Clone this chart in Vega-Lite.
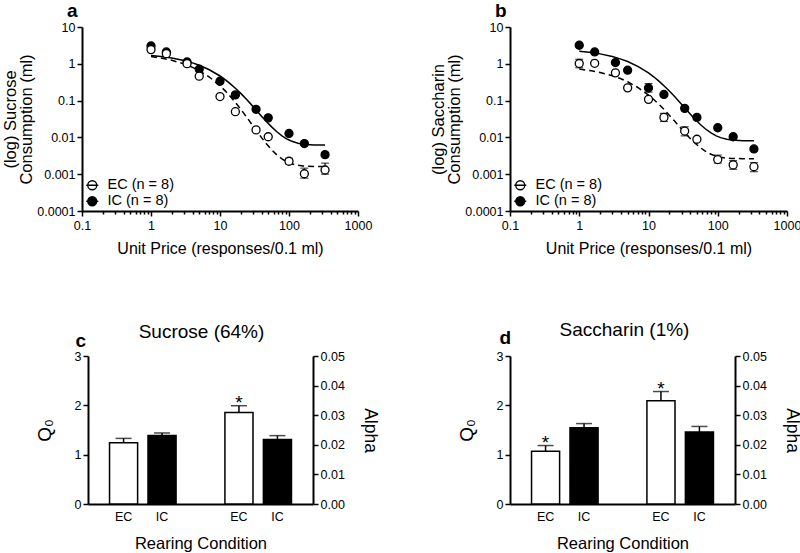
{
  "$schema": "https://vega.github.io/schema/vega-lite/v6.json",
  "padding": {"left": 2, "top": 2, "right": 0, "bottom": 0},
  "config": {
    "font": "Liberation Sans",
    "view": {"stroke": null},
    "axis": {"grid": false, "domainColor": "black", "domainWidth": 2, "tickColor": "black", "tickWidth": 1.5, "labelColor": "black", "titleColor": "black", "labelFontSize": 12.5, "titleFontWeight": "normal", "labelFont": "Liberation Sans", "titleFont": "Liberation Sans"},
    "title": {"color": "black", "font": "Liberation Sans"},
    "legend": {"labelFont": "Liberation Sans", "labelColor": "black"}
  },
  "datasets": {
    "ptsA": [
      {"price": 1, "q": 3.05, "group": "IC"}, {"price": 1.67, "q": 2.1, "group": "IC"}, {"price": 3.33, "q": 1.12, "group": "IC"}, {"price": 5, "q": 0.71, "group": "IC"}, {"price": 10, "q": 0.336, "group": "IC"}, {"price": 16.7, "q": 0.143, "group": "IC"}, {"price": 33.3, "q": 0.058, "group": "IC"}, {"price": 50, "q": 0.034, "group": "IC"}, {"price": 100, "q": 0.0128, "group": "IC"}, {"price": 167, "q": 0.0068, "group": "IC"}, {"price": 333, "q": 0.0034, "group": "IC"},
      {"price": 1, "q": 2.43, "group": "EC"}, {"price": 1.67, "q": 1.89, "group": "EC"}, {"price": 3.33, "q": 1.01, "group": "EC"}, {"price": 5, "q": 0.46, "group": "EC"}, {"price": 10, "q": 0.129, "group": "EC"}, {"price": 16.7, "q": 0.05, "group": "EC"}, {"price": 33.3, "q": 0.016, "group": "EC"}, {"price": 50, "q": 0.0104, "group": "EC"}, {"price": 100, "q": 0.00225, "group": "EC"}, {"price": 167, "q": 0.00103, "group": "EC"}, {"price": 333, "q": 0.0013, "group": "EC"}
    ],
    "ptsB": [
      {"price": 1, "q": 3.19, "group": "IC"}, {"price": 1.67, "q": 2.1, "group": "IC"}, {"price": 3.33, "q": 1.08, "group": "IC"}, {"price": 5, "q": 0.67, "group": "IC"}, {"price": 10, "q": 0.22, "group": "IC"}, {"price": 16.7, "q": 0.147, "group": "IC"}, {"price": 33.3, "q": 0.0615, "group": "IC"}, {"price": 50, "q": 0.035, "group": "IC"}, {"price": 100, "q": 0.0183, "group": "IC"}, {"price": 167, "q": 0.0104, "group": "IC"}, {"price": 333, "q": 0.00485, "group": "IC"},
      {"price": 1, "q": 1.02, "group": "EC"}, {"price": 1.67, "q": 1.03, "group": "EC"}, {"price": 3.33, "q": 0.567, "group": "EC"}, {"price": 5, "q": 0.222, "group": "EC"}, {"price": 10, "q": 0.108, "group": "EC"}, {"price": 16.7, "q": 0.035, "group": "EC"}, {"price": 33.3, "q": 0.0149, "group": "EC"}, {"price": 50, "q": 0.0089, "group": "EC"}, {"price": 100, "q": 0.0025, "group": "EC"}, {"price": 167, "q": 0.00179, "group": "EC"}, {"price": 333, "q": 0.0016, "group": "EC"}
    ],
    "errA": [
      {"price": 100, "lo": 0.0019, "hi": 0.0027}, {"price": 167, "lo": 0.00078, "hi": 0.00146}, {"price": 333, "lo": 0.001, "hi": 0.002}
    ],
    "errB": [
      {"price": 1, "lo": 0.78, "hi": 1.33}, {"price": 10, "lo": 0.17, "hi": 0.29}, {"price": 16.7, "lo": 0.027, "hi": 0.045}, {"price": 33.3, "lo": 0.011, "hi": 0.0195}, {"price": 100, "lo": 0.002, "hi": 0.0033}, {"price": 167, "lo": 0.00136, "hi": 0.00234}, {"price": 333, "lo": 0.00117, "hi": 0.00206}
    ],
    "fitA": [
      {"price": 1, "q": 1.57, "group": "EC"}, {"price": 1.5, "q": 1.4, "group": "EC"}, {"price": 2, "q": 1.245, "group": "EC"}, {"price": 3, "q": 0.995, "group": "EC"}, {"price": 4, "q": 0.802, "group": "EC"}, {"price": 5, "q": 0.65, "group": "EC"}, {"price": 7, "q": 0.437, "group": "EC"}, {"price": 10, "q": 0.253, "group": "EC"}, {"price": 12, "q": 0.181, "group": "EC"}, {"price": 14, "q": 0.132, "group": "EC"}, {"price": 17, "q": 0.0861, "group": "EC"}, {"price": 20, "q": 0.0583, "group": "EC"}, {"price": 24, "q": 0.0368, "group": "EC"}, {"price": 28, "q": 0.0247, "group": "EC"}, {"price": 34, "q": 0.01488, "group": "EC"}, {"price": 40, "q": 0.00986, "group": "EC"}, {"price": 47, "q": 0.0067, "group": "EC"}, {"price": 56, "q": 0.0046, "group": "EC"}, {"price": 66, "q": 0.0034, "group": "EC"}, {"price": 80, "q": 0.00256, "group": "EC"}, {"price": 95, "q": 0.00213, "group": "EC"}, {"price": 110, "q": 0.00191, "group": "EC"}, {"price": 135, "q": 0.00174, "group": "EC"}, {"price": 160, "q": 0.00167, "group": "EC"}, {"price": 230, "q": 0.00163, "group": "EC"}, {"price": 333, "q": 0.00162, "group": "EC"},
      {"price": 1, "q": 1.69, "group": "IC"}, {"price": 1.5, "q": 1.56, "group": "IC"}, {"price": 2, "q": 1.44, "group": "IC"}, {"price": 3, "q": 1.23, "group": "IC"}, {"price": 4, "q": 1.06, "group": "IC"}, {"price": 5, "q": 0.914, "group": "IC"}, {"price": 7, "q": 0.69, "group": "IC"}, {"price": 10, "q": 0.466, "group": "IC"}, {"price": 12, "q": 0.365, "group": "IC"}, {"price": 14, "q": 0.29, "group": "IC"}, {"price": 17, "q": 0.2104, "group": "IC"}, {"price": 20, "q": 0.157, "group": "IC"}, {"price": 24, "q": 0.11, "group": "IC"}, {"price": 28, "q": 0.0802, "group": "IC"}, {"price": 34, "q": 0.0533, "group": "IC"}, {"price": 40, "q": 0.0378, "group": "IC"}, {"price": 47, "q": 0.0271, "group": "IC"}, {"price": 56, "q": 0.0193, "group": "IC"}, {"price": 66, "q": 0.01446, "group": "IC"}, {"price": 80, "q": 0.0109, "group": "IC"}, {"price": 95, "q": 0.0089, "group": "IC"}, {"price": 110, "q": 0.00782, "group": "IC"}, {"price": 135, "q": 0.00692, "group": "IC"}, {"price": 160, "q": 0.00652, "group": "IC"}, {"price": 230, "q": 0.00621, "group": "IC"}, {"price": 333, "q": 0.00617, "group": "IC"}
    ],
    "fitB": [
      {"price": 1, "q": 0.718, "group": "EC"}, {"price": 1.5, "q": 0.645, "group": "EC"}, {"price": 2, "q": 0.582, "group": "EC"}, {"price": 3, "q": 0.476, "group": "EC"}, {"price": 4, "q": 0.392, "group": "EC"}, {"price": 5, "q": 0.325, "group": "EC"}, {"price": 7, "q": 0.229, "group": "EC"}, {"price": 10, "q": 0.141, "group": "EC"}, {"price": 12, "q": 0.1056, "group": "EC"}, {"price": 14, "q": 0.0805, "group": "EC"}, {"price": 17, "q": 0.0557, "group": "EC"}, {"price": 20, "q": 0.0401, "group": "EC"}, {"price": 24, "q": 0.0273, "group": "EC"}, {"price": 28, "q": 0.0196, "group": "EC"}, {"price": 34, "q": 0.01303, "group": "EC"}, {"price": 40, "q": 0.0094, "group": "EC"}, {"price": 47, "q": 0.00698, "group": "EC"}, {"price": 56, "q": 0.00526, "group": "EC"}, {"price": 66, "q": 0.00423, "group": "EC"}, {"price": 80, "q": 0.00348, "group": "EC"}, {"price": 95, "q": 0.00308, "group": "EC"}, {"price": 110, "q": 0.00288, "group": "EC"}, {"price": 135, "q": 0.00272, "group": "EC"}, {"price": 160, "q": 0.00267, "group": "EC"}, {"price": 230, "q": 0.00264, "group": "EC"}, {"price": 333, "q": 0.00263, "group": "EC"},
      {"price": 1, "q": 2.2, "group": "IC"}, {"price": 1.5, "q": 2.02, "group": "IC"}, {"price": 2, "q": 1.86, "group": "IC"}, {"price": 3, "q": 1.57, "group": "IC"}, {"price": 4, "q": 1.34, "group": "IC"}, {"price": 5, "q": 1.15, "group": "IC"}, {"price": 7, "q": 0.853, "group": "IC"}, {"price": 10, "q": 0.564, "group": "IC"}, {"price": 12, "q": 0.437, "group": "IC"}, {"price": 14, "q": 0.344, "group": "IC"}, {"price": 17, "q": 0.2466, "group": "IC"}, {"price": 20, "q": 0.182, "group": "IC"}, {"price": 24, "q": 0.1267, "group": "IC"}, {"price": 28, "q": 0.092, "group": "IC"}, {"price": 34, "q": 0.061, "group": "IC"}, {"price": 40, "q": 0.0433, "group": "IC"}, {"price": 47, "q": 0.03125, "group": "IC"}, {"price": 56, "q": 0.0225, "group": "IC"}, {"price": 66, "q": 0.01716, "group": "IC"}, {"price": 80, "q": 0.0132, "group": "IC"}, {"price": 95, "q": 0.01102, "group": "IC"}, {"price": 110, "q": 0.00984, "group": "IC"}, {"price": 135, "q": 0.00887, "group": "IC"}, {"price": 160, "q": 0.00847, "group": "IC"}, {"price": 230, "q": 0.00817, "group": "IC"}, {"price": 333, "q": 0.00813, "group": "IC"}
    ],
    "bars": [
      {"panel": "c", "measure": "Q0", "cond": "EC", "slot": "Q0-EC", "value": 1.24, "upper": 1.33, "sig": ""},
      {"panel": "c", "measure": "Q0", "cond": "IC", "slot": "Q0-IC", "value": 1.39, "upper": 1.44, "sig": ""},
      {"panel": "c", "measure": "Alpha", "cond": "EC", "slot": "Alpha-EC", "value": 0.0309, "upper": 0.0332, "sig": "*"},
      {"panel": "c", "measure": "Alpha", "cond": "IC", "slot": "Alpha-IC", "value": 0.0218, "upper": 0.0231, "sig": ""},
      {"panel": "d", "measure": "Q0", "cond": "EC", "slot": "Q0-EC", "value": 1.07, "upper": 1.185, "sig": "*"},
      {"panel": "d", "measure": "Q0", "cond": "IC", "slot": "Q0-IC", "value": 1.547, "upper": 1.63, "sig": ""},
      {"panel": "d", "measure": "Alpha", "cond": "EC", "slot": "Alpha-EC", "value": 0.0349, "upper": 0.038, "sig": "*"},
      {"panel": "d", "measure": "Alpha", "cond": "IC", "slot": "Alpha-IC", "value": 0.0243, "upper": 0.0262, "sig": ""}
    ]
  },
  "bounds": "flush",
  "columns": 2,
  "spacing": {"row": 145, "column": 152},
  "resolve": {"scale": {"fill": "independent"}, "legend": {"fill": "independent"}},
  "concat": [
    {
      "width": 276, "height": 184,
      "title": {"text": "a", "anchor": "start", "frame": "group", "dx": -15, "fontSize": 19, "fontWeight": "bold", "baseline": "alphabetic", "offset": -15},
      "encoding": {
        "x": {"field": "price", "type": "quantitative", "scale": {"type": "log", "domain": [0.1, 1000]},
          "axis": {"values": [0.1,0.2,0.3,0.4,0.5,0.6,0.7,0.8,0.9,1,2,3,4,5,6,7,8,9,10,20,30,40,50,60,70,80,90,100,200,300,400,500,600,700,800,900,1000], "format": "~g", "labelExpr": "indexof(['0.1','1','10','100','1000'], datum.label) >= 0 ? datum.label : ''", "labelFlush": false, "labelOverlap": false, "tickSize": {"condition": {"test": "indexof([0.1,1,10,100,1000], datum.value) >= 0", "value": 5}, "value": 3}, "title": "Unit Price (responses/0.1 ml)", "titleFontSize": 16, "titlePadding": 9, "labelPadding": 3}},
        "y": {"field": "q", "type": "quantitative", "scale": {"type": "log", "domain": [0.0001, 10]},
          "axis": {"values": [0.0001, 0.001, 0.01, 0.1, 1, 10], "format": "~g", "title": ["(log) Sucrose", "Consumption (ml)"], "titleFontSize": 16.5, "titleLineHeight": 16.5, "titlePadding": 2, "tickSize": 5, "labelPadding": 2}}
      },
      "layer": [
        {"data": {"name": "fitA"}, "transform": [{"filter": "datum.group == 'EC'"}], "mark": {"type": "line", "color": "black", "strokeWidth": 1.5, "strokeDash": [6, 4]}, "encoding": {}},
        {"data": {"name": "fitA"}, "transform": [{"filter": "datum.group == 'IC'"}], "mark": {"type": "line", "color": "black", "strokeWidth": 1.5}, "encoding": {}},
        {"data": {"name": "errA"}, "mark": {"type": "rule", "color": "black", "strokeWidth": 1.2},
          "encoding": {"y": {"field": "lo", "type": "quantitative", "scale": {"type": "log", "domain": [0.0001, 10]}}, "y2": {"field": "hi"}}},
        {"data": {"name": "errA"}, "mark": {"type": "tick", "orient": "horizontal", "color": "black", "size": 8, "thickness": 1.2},
          "encoding": {"y": {"field": "lo", "type": "quantitative", "scale": {"type": "log", "domain": [0.0001, 10]}}}},
        {"data": {"name": "errA"}, "mark": {"type": "tick", "orient": "horizontal", "color": "black", "size": 8, "thickness": 1.2},
          "encoding": {"y": {"field": "hi", "type": "quantitative", "scale": {"type": "log", "domain": [0.0001, 10]}}}},
        {"data": {"name": "ptsA"}, "mark": {"type": "point", "shape": "circle", "filled": true, "size": 64, "stroke": "black", "strokeWidth": 1.3, "opacity": 1},
          "encoding": {"fill": {"field": "group", "type": "nominal", "scale": {"domain": ["EC", "IC"], "range": ["white", "black"]},
            "legend": {"orient": "none", "legendX": 3, "legendY": 151, "title": null, "labelExpr": "datum.label + ' (n = 8)'", "labelFontSize": 14.5, "labelColor": "black", "symbolType": "M-1,0H1M0.75,0A0.75,0.75,0,1,1,-0.75,0A0.75,0.75,0,1,1,0.75,0Z", "symbolSize": 144, "symbolStrokeWidth": 1.3, "symbolStrokeColor": "black", "rowPadding": 0, "padding": 0, "labelOffset": 8}}}}
      ]
    },
    {
      "width": 277, "height": 184,
      "title": {"text": "b", "anchor": "start", "frame": "group", "dx": -15, "fontSize": 19, "fontWeight": "bold", "baseline": "alphabetic", "offset": -15},
      "encoding": {
        "x": {"field": "price", "type": "quantitative", "scale": {"type": "log", "domain": [0.1, 1000]},
          "axis": {"values": [0.1,0.2,0.3,0.4,0.5,0.6,0.7,0.8,0.9,1,2,3,4,5,6,7,8,9,10,20,30,40,50,60,70,80,90,100,200,300,400,500,600,700,800,900,1000], "format": "~g", "labelExpr": "indexof(['0.1','1','10','100','1000'], datum.label) >= 0 ? datum.label : ''", "labelFlush": false, "labelOverlap": false, "tickSize": {"condition": {"test": "indexof([0.1,1,10,100,1000], datum.value) >= 0", "value": 5}, "value": 3}, "title": "Unit Price (responses/0.1 ml)", "titleFontSize": 16, "titlePadding": 9, "labelPadding": 3}},
        "y": {"field": "q", "type": "quantitative", "scale": {"type": "log", "domain": [0.0001, 10]},
          "axis": {"values": [0.0001, 0.001, 0.01, 0.1, 1, 10], "format": "~g", "title": ["(log) Saccharin", "Consumption (ml)"], "titleFontSize": 16.5, "titleLineHeight": 16.5, "titlePadding": 2, "tickSize": 5, "labelPadding": 2}}
      },
      "layer": [
        {"data": {"name": "fitB"}, "transform": [{"filter": "datum.group == 'EC'"}], "mark": {"type": "line", "color": "black", "strokeWidth": 1.5, "strokeDash": [6, 4]}, "encoding": {}},
        {"data": {"name": "fitB"}, "transform": [{"filter": "datum.group == 'IC'"}], "mark": {"type": "line", "color": "black", "strokeWidth": 1.5}, "encoding": {}},
        {"data": {"name": "errB"}, "mark": {"type": "rule", "color": "black", "strokeWidth": 1.2},
          "encoding": {"y": {"field": "lo", "type": "quantitative", "scale": {"type": "log", "domain": [0.0001, 10]}}, "y2": {"field": "hi"}}},
        {"data": {"name": "errB"}, "mark": {"type": "tick", "orient": "horizontal", "color": "black", "size": 8, "thickness": 1.2},
          "encoding": {"y": {"field": "lo", "type": "quantitative", "scale": {"type": "log", "domain": [0.0001, 10]}}}},
        {"data": {"name": "errB"}, "mark": {"type": "tick", "orient": "horizontal", "color": "black", "size": 8, "thickness": 1.2},
          "encoding": {"y": {"field": "hi", "type": "quantitative", "scale": {"type": "log", "domain": [0.0001, 10]}}}},
        {"data": {"name": "ptsB"}, "mark": {"type": "point", "shape": "circle", "filled": true, "size": 64, "stroke": "black", "strokeWidth": 1.3, "opacity": 1},
          "encoding": {"fill": {"field": "group", "type": "nominal", "scale": {"domain": ["EC", "IC"], "range": ["white", "black"]},
            "legend": {"orient": "none", "legendX": 3, "legendY": 151, "title": null, "labelExpr": "datum.label + ' (n = 8)'", "labelFontSize": 14.5, "labelColor": "black", "symbolType": "M-1,0H1M0.75,0A0.75,0.75,0,1,1,-0.75,0A0.75,0.75,0,1,1,0.75,0Z", "symbolSize": 144, "symbolStrokeWidth": 1.3, "symbolStrokeColor": "black", "rowPadding": 0, "padding": 0, "labelOffset": 8}}}}
      ]
    },
    {
      "width": 231, "height": 148,
      "title": {"text": "Sucrose (64%)", "fontSize": 19, "fontWeight": "normal", "anchor": "middle", "frame": "group", "offset": -11, "dx": 4},
      "data": {"name": "bars"},
      "layer": [
        {
          "transform": [{"filter": "datum.panel == 'c' && datum.measure == 'Q0'"}],
          "encoding": {
            "x": {"field": "slot", "type": "nominal", "sort": null, "scale": {"type": "band", "domain": ["Q0-EC", "Q0-IC", "gap", "Alpha-EC", "Alpha-IC"], "range": [6, 231], "paddingInner": 0.27, "paddingOuter": 0.56},
              "axis": {"orient": "bottom", "title": "Rearing Condition", "titleFontSize": 16.5, "labelExpr": "datum.value == 'gap' ? '' : split(datum.value, '-')[1]", "ticks": false, "labelAngle": 0, "labelPadding": 6, "titlePadding": 13}},
            "y": {"field": "value", "type": "quantitative", "scale": {"domain": [0, 3]},
              "axis": {"orient": "left", "offset": -6, "values": [0, 1, 2, 3], "title": "Q₀", "titleFontSize": 19, "titlePadding": 20, "tickSize": 5, "labelPadding": 2}}
          },
          "layer": [
            {"mark": {"type": "bar", "stroke": "black", "strokeWidth": 1.5},
              "encoding": {"fill": {"field": "cond", "type": "nominal", "scale": {"domain": ["EC", "IC"], "range": ["white", "black"]}, "legend": null}}},
            {"mark": {"type": "rule", "color": "black", "strokeWidth": 1.5},
              "encoding": {"y2": {"field": "upper"}}},
            {"mark": {"type": "tick", "color": "black", "size": 16, "thickness": 1.5},
              "encoding": {"y": {"field": "upper", "type": "quantitative", "scale": {"domain": [0, 3]}}}},
            {"mark": {"type": "text", "color": "black", "fontSize": 19, "dy": 3, "baseline": "alphabetic"},
              "encoding": {"y": {"field": "upper", "type": "quantitative", "scale": {"domain": [0, 3]}}, "text": {"field": "sig"}}}
          ]
        },
        {
          "transform": [{"filter": "datum.panel == 'c' && datum.measure == 'Alpha'"}],
          "encoding": {
            "x": {"field": "slot", "type": "nominal", "sort": null, "scale": {"type": "band", "domain": ["Q0-EC", "Q0-IC", "gap", "Alpha-EC", "Alpha-IC"], "range": [6, 231], "paddingInner": 0.27, "paddingOuter": 0.56},
              "axis": {"orient": "top", "title": "c", "domain": false, "ticks": false, "labels": false, "titleFontSize": 19, "titleFontWeight": "bold", "titleAnchor": "start", "titleAlign": "left", "titleBaseline": "alphabetic", "titleX": -7, "titleY": -10, "titleAngle": 0}},
            "y": {"field": "value", "type": "quantitative", "scale": {"domain": [0, 0.05]},
              "axis": {"orient": "right", "values": [0, 0.01, 0.02, 0.03, 0.04, 0.05], "format": ".2f", "title": "Alpha", "titleAngle": 90, "titleFontSize": 17.5, "titlePadding": 16, "tickSize": 5, "labelPadding": 2}}
          },
          "layer": [
            {"mark": {"type": "bar", "stroke": "black", "strokeWidth": 1.5},
              "encoding": {"fill": {"field": "cond", "type": "nominal", "scale": {"domain": ["EC", "IC"], "range": ["white", "black"]}, "legend": null}}},
            {"mark": {"type": "rule", "color": "black", "strokeWidth": 1.5},
              "encoding": {"y2": {"field": "upper"}}},
            {"mark": {"type": "tick", "color": "black", "size": 16, "thickness": 1.5},
              "encoding": {"y": {"field": "upper", "type": "quantitative", "scale": {"domain": [0, 0.05]}}}},
            {"mark": {"type": "text", "color": "black", "fontSize": 19, "dy": 3, "baseline": "alphabetic"},
              "encoding": {"y": {"field": "upper", "type": "quantitative", "scale": {"domain": [0, 0.05]}}, "text": {"field": "sig"}}}
          ]
        }
      ],
      "resolve": {"scale": {"y": "independent"}, "axis": {"x": "independent"}}
    },
    {
      "width": 225, "height": 148,
      "title": {"text": "Saccharin (1%)", "fontSize": 19, "fontWeight": "normal", "anchor": "middle", "frame": "group", "offset": -12, "dx": 2},
      "data": {"name": "bars"},
      "layer": [
        {
          "transform": [{"filter": "datum.panel == 'd' && datum.measure == 'Q0'"}],
          "encoding": {
            "x": {"field": "slot", "type": "nominal", "sort": null, "scale": {"type": "band", "domain": ["Q0-EC", "Q0-IC", "gap", "Alpha-EC", "Alpha-IC"], "paddingInner": 0.27, "paddingOuter": 0.56},
              "axis": {"orient": "bottom", "title": "Rearing Condition", "titleFontSize": 16.5, "labelExpr": "datum.value == 'gap' ? '' : split(datum.value, '-')[1]", "ticks": false, "labelAngle": 0, "labelPadding": 6, "titlePadding": 13}},
            "y": {"field": "value", "type": "quantitative", "scale": {"domain": [0, 3]},
              "axis": {"orient": "left", "values": [0, 1, 2, 3], "title": "Q₀", "titleFontSize": 19, "titlePadding": 20, "tickSize": 5, "labelPadding": 2}}
          },
          "layer": [
            {"mark": {"type": "bar", "stroke": "black", "strokeWidth": 1.5},
              "encoding": {"fill": {"field": "cond", "type": "nominal", "scale": {"domain": ["EC", "IC"], "range": ["white", "black"]}, "legend": null}}},
            {"mark": {"type": "rule", "color": "black", "strokeWidth": 1.5},
              "encoding": {"y2": {"field": "upper"}}},
            {"mark": {"type": "tick", "color": "black", "size": 16, "thickness": 1.5},
              "encoding": {"y": {"field": "upper", "type": "quantitative", "scale": {"domain": [0, 3]}}}},
            {"mark": {"type": "text", "color": "black", "fontSize": 19, "dy": 3, "baseline": "alphabetic"},
              "encoding": {"y": {"field": "upper", "type": "quantitative", "scale": {"domain": [0, 3]}}, "text": {"field": "sig"}}}
          ]
        },
        {
          "transform": [{"filter": "datum.panel == 'd' && datum.measure == 'Alpha'"}],
          "encoding": {
            "x": {"field": "slot", "type": "nominal", "sort": null, "scale": {"type": "band", "domain": ["Q0-EC", "Q0-IC", "gap", "Alpha-EC", "Alpha-IC"], "paddingInner": 0.27, "paddingOuter": 0.56},
              "axis": {"orient": "top", "title": "d", "domain": false, "ticks": false, "labels": false, "titleFontSize": 19, "titleFontWeight": "bold", "titleAnchor": "start", "titleAlign": "left", "titleBaseline": "alphabetic", "titleX": -11, "titleY": -13, "titleAngle": 0}},
            "y": {"field": "value", "type": "quantitative", "scale": {"domain": [0, 0.05]},
              "axis": {"orient": "right", "values": [0, 0.01, 0.02, 0.03, 0.04, 0.05], "format": ".2f", "title": "Alpha", "titleAngle": 90, "titleFontSize": 17.5, "titlePadding": 16, "tickSize": 5, "labelPadding": 2}}
          },
          "layer": [
            {"mark": {"type": "bar", "stroke": "black", "strokeWidth": 1.5},
              "encoding": {"fill": {"field": "cond", "type": "nominal", "scale": {"domain": ["EC", "IC"], "range": ["white", "black"]}, "legend": null}}},
            {"mark": {"type": "rule", "color": "black", "strokeWidth": 1.5},
              "encoding": {"y2": {"field": "upper"}}},
            {"mark": {"type": "tick", "color": "black", "size": 16, "thickness": 1.5},
              "encoding": {"y": {"field": "upper", "type": "quantitative", "scale": {"domain": [0, 0.05]}}}},
            {"mark": {"type": "text", "color": "black", "fontSize": 19, "dy": 3, "baseline": "alphabetic"},
              "encoding": {"y": {"field": "upper", "type": "quantitative", "scale": {"domain": [0, 0.05]}}, "text": {"field": "sig"}}}
          ]
        }
      ],
      "resolve": {"scale": {"y": "independent"}, "axis": {"x": "independent"}}
    }
  ]
}
